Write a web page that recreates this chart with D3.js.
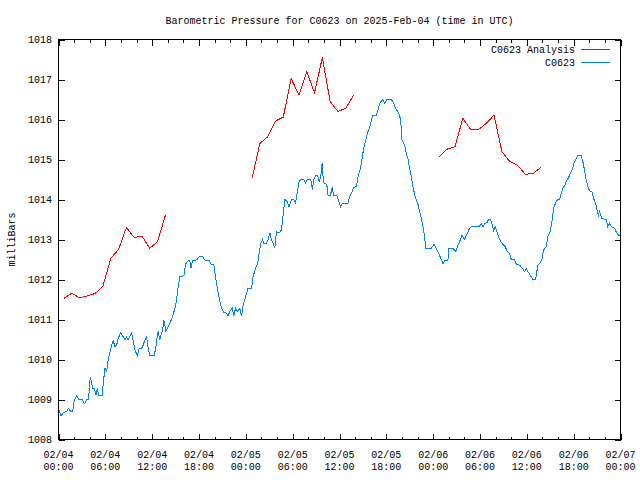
<!DOCTYPE html>
<html>
<head>
<meta charset="utf-8">
<script src="https://cdn.jsdelivr.net/npm/d3@7"></script>
<style>
  html, body { margin: 0; padding: 0; background: #ffffff; }
  svg { display: block; }
  text { font-family: "Liberation Mono", "DejaVu Sans Mono", monospace; font-size: 10px; fill: #000; }
</style>
</head>
<body>
<svg id="chart" width="640" height="480"></svg>
<script>
// ---------- DATA ----------
const titleText = "Barometric Pressure for C0623 on 2025-Feb-04 (time in UTC)";
const yLabel = "milliBars";
const seriesNames = ["C0623 Analysis", "C0623"];
const seriesColors = ["#ff0000", "#0080ff"];

// x-axis ticks (hours since 2025-02-04 00:00 UTC)
const xMajorTicks = [0, 6, 12, 18, 24, 30, 36, 42, 48, 54, 60, 66, 72];
const xTickDates = ["02/04","02/04","02/04","02/04","02/05","02/05","02/05","02/05","02/06","02/06","02/06","02/06","02/07"];
const xTickTimes = ["00:00","06:00","12:00","18:00","00:00","06:00","12:00","18:00","00:00","06:00","12:00","18:00","00:00"];
const yTicks = [1008, 1009, 1010, 1011, 1012, 1013, 1014, 1015, 1016, 1017, 1018];

// Analysis series (hourly, with gaps marked by null)
const analysisHours = [
  0.7, 1.7, 2.7, 3.7, 4.7, 5.7, 6.7, 7.7, 8.7, 9.7, 10.7, 11.7, 12.7, 13.7, null,
  24.8, 25.8, 26.8, 27.8, 28.8, 29.8, 30.8, 31.8, 32.8, 33.8, 34.8, 35.8, 36.8, 37.8, null,
  48.8, 49.8, 50.8, 51.8, 52.8, 53.8, 54.8, 55.8, 56.8, 57.8, 58.8, 59.8, 60.8, 61.8
];
const analysisValues = [
  1011.53, 1011.66, 1011.54, 1011.59, 1011.65, 1011.84, 1012.53, 1012.75, 1013.30, 1013.05, 1013.08, 1012.78, 1012.95, 1013.61, null,
  1014.53, 1015.40, 1015.57, 1015.96, 1016.06, 1017.03, 1016.61, 1017.20, 1016.67, 1017.55, 1016.45, 1016.20, 1016.28, 1016.61, null,
  1015.07, 1015.26, 1015.32, 1016.03, 1015.75, 1015.75, 1015.90, 1016.11, 1015.20, 1014.95, 1014.86, 1014.63, 1014.65, 1014.80
];

// Station observations
const obsHours = [
  0.06,0.32,0.61,1.05,1.25,1.60,1.82,2.02,2.33,2.66,3.10,3.30,3.61,3.87,3.94,4.07,4.25,4.38,4.58,4.80,
  4.97,5.18,5.61,5.73,5.95,6.17,6.37,6.59,6.81,7.01,7.23,7.45,7.65,7.96,8.29,8.51,8.73,8.93,9.15,9.37,
  9.57,9.79,10.09,10.34,10.65,10.85,11.07,11.29,11.49,11.71,12.26,12.48,12.65,12.77,12.99,13.12,13.34,13.50,13.76,14.05,
  14.27,14.62,14.91,15.13,15.33,15.55,16.06,16.28,16.61,16.83,16.96,17.18,17.69,18.02,18.46,18.75,19.30,19.52,19.90,20.03,
  20.25,20.45,20.67,20.97,21.22,21.53,21.73,21.95,22.25,22.46,22.68,22.94,23.23,23.45,23.65,23.87,24.09,24.29,24.73,24.93,
  25.24,25.50,25.70,25.92,26.14,26.34,26.65,26.85,27.07,27.29,27.49,27.71,27.93,28.26,28.57,28.77,28.99,29.29,29.54,29.85,
  30.14,30.36,30.57,30.82,31.13,31.42,31.64,31.90,32.32,32.54,32.70,32.96,33.18,33.38,33.60,33.77,33.89,34.02,34.24,34.41,
  34.53,34.84,35.05,35.26,35.69,35.90,36.12,36.38,37.09,37.31,37.61,37.82,38.17,38.37,38.68,38.89,39.10,39.36,39.58,39.87,
  40.22,40.73,40.93,41.15,41.50,41.79,42.09,42.65,42.94,43.20,43.62,43.84,44.01,44.35,44.57,44.77,44.99,45.21,45.41,45.67,
  45.85,46.05,46.27,46.49,46.69,46.91,47.04,47.77,48.10,48.41,48.70,49.05,49.25,49.47,49.89,50.02,50.53,50.88,51.17,51.48,
  51.69,52.03,52.33,52.67,52.89,53.86,54.17,54.37,54.59,54.89,55.10,55.36,55.58,55.74,55.96,56.17,56.38,56.64,56.93,57.24,
  57.50,57.79,58.01,58.43,58.65,59.07,59.42,59.71,59.93,60.13,60.44,60.77,61.12,61.41,61.63,61.93,62.14,62.49,62.69,63.00,
  63.26,63.42,63.68,63.90,64.19,64.41,64.61,64.83,65.05,65.34,65.60,65.82,66.02,66.24,66.53,66.97,67.17,67.39,67.61,67.81,
  68.03,68.33,68.54,68.80,69.02,69.18,69.31,69.61,70.17,70.37,70.59,70.81,71.23,71.53,71.78,71.94
];
const obsValues = [
  1008.74,1008.59,1008.67,1008.70,1008.78,1008.69,1008.70,1008.99,1009.09,1008.99,1008.99,1008.89,1008.99,1008.99,1009.28,1009.57,1009.40,1009.28,1009.28,1009.11,
  1009.28,1009.09,1009.09,1009.40,1009.78,1009.70,1009.99,1010.19,1010.36,1010.47,1010.32,1010.36,1010.53,1010.67,1010.57,1010.49,1010.56,1010.49,1010.59,1010.67,
  1010.45,1010.25,1010.09,1010.28,1010.28,1010.36,1010.49,1010.57,1010.28,1010.09,1010.09,1010.32,1010.57,1010.70,1010.49,1010.61,1010.74,1010.99,1010.70,1010.82,
  1010.91,1011.07,1011.28,1011.49,1011.82,1012.07,1012.09,1012.39,1012.47,1012.47,1012.28,1012.47,1012.49,1012.57,1012.57,1012.49,1012.47,1012.39,1012.36,1012.20,
  1011.90,1011.66,1011.45,1011.24,1011.17,1011.16,1011.09,1011.20,1011.28,1011.09,1011.28,1011.20,1011.28,1011.09,1011.36,1011.49,1011.66,1011.78,1011.78,1012.07,
  1012.28,1012.40,1012.65,1012.90,1013.00,1012.89,1012.90,1013.00,1013.17,1012.99,1012.90,1012.78,1013.20,1013.16,1013.24,1013.60,1014.00,1013.95,1013.82,1014.00,
  1014.00,1013.91,1014.16,1014.45,1014.51,1014.51,1014.41,1014.51,1014.51,1014.24,1014.51,1014.59,1014.61,1014.45,1014.57,1014.90,1014.57,1014.41,1014.41,1014.32,
  1014.11,1014.11,1014.30,1014.11,1014.09,1013.95,1013.82,1013.91,1013.91,1014.07,1014.20,1014.30,1014.32,1014.57,1014.78,1015.03,1015.28,1015.49,1015.66,1015.81,
  1016.09,1016.11,1016.24,1016.40,1016.50,1016.40,1016.50,1016.50,1016.40,1016.28,1016.14,1015.99,1015.49,1015.36,1015.13,1015.01,1014.78,1014.57,1014.32,1014.09,
  1013.99,1013.88,1013.70,1013.53,1013.32,1013.07,1012.78,1012.78,1012.88,1012.78,1012.65,1012.50,1012.39,1012.47,1012.49,1012.78,1012.78,1012.70,1012.86,1012.99,
  1013.11,1013.00,1013.14,1013.28,1013.32,1013.32,1013.39,1013.31,1013.40,1013.42,1013.50,1013.50,1013.36,1013.22,1013.32,1013.20,1013.07,1012.95,1012.88,1012.82,
  1012.70,1012.65,1012.50,1012.49,1012.38,1012.36,1012.28,1012.20,1012.28,1012.20,1012.11,1011.99,1011.99,1012.36,1012.40,1012.49,1012.74,1012.82,1013.07,1013.20,
  1013.49,1013.78,1013.91,1013.99,1014.00,1014.16,1014.28,1014.34,1014.45,1014.55,1014.66,1014.74,1014.90,1015.00,1015.09,1015.09,1014.95,1014.74,1014.49,1014.32,
  1014.22,1014.20,1014.03,1013.91,1013.70,1013.61,1013.70,1013.53,1013.50,1013.32,1013.40,1013.32,1013.28,1013.16,1013.11,1013.08
];

// ---------- CHART ----------
const svg = d3.select("#chart");
const mLeft = 58.5, mRight = 620.5, mTop = 39.5, mBottom = 439.5;
const fontStack = '"Liberation Mono", "DejaVu Sans Mono", monospace';

const x = d3.scaleLinear().domain([0, 72]).range([mLeft, mRight]);
const y = d3.scaleLinear().domain([1008, 1018]).range([mBottom, mTop]);

const minorTicks = d3.range(0, 73, 2).filter(h => h % 6 !== 0);

function styleAxis(g) {
  g.selectAll("path.domain").remove();
  g.selectAll("line").attr("stroke", "#000").attr("shape-rendering", "crispEdges");
}

// Major ticks, inward on all four sides
svg.append("g").attr("transform", `translate(0,${mBottom})`)
  .call(d3.axisBottom(x).tickValues(xMajorTicks).tickSize(-6).tickSizeOuter(0).tickFormat(""))
  .call(styleAxis);
svg.append("g").attr("transform", `translate(0,${mTop})`)
  .call(d3.axisTop(x).tickValues(xMajorTicks).tickSize(-6).tickSizeOuter(0).tickFormat(""))
  .call(styleAxis);
// Minor x ticks
svg.append("g").attr("transform", `translate(0,${mBottom})`)
  .call(d3.axisBottom(x).tickValues(minorTicks).tickSize(-3).tickSizeOuter(0).tickFormat(""))
  .call(styleAxis);
svg.append("g").attr("transform", `translate(0,${mTop})`)
  .call(d3.axisTop(x).tickValues(minorTicks).tickSize(-3).tickSizeOuter(0).tickFormat(""))
  .call(styleAxis);

// Y axes
const yAxisL = svg.append("g").attr("transform", `translate(${mLeft},0)`)
  .call(d3.axisLeft(y).tickValues(yTicks).tickSize(-6).tickSizeOuter(0).tickPadding(6.5).tickFormat(d3.format("d")))
  .call(styleAxis);
yAxisL.selectAll("text")
  .style("font-family", fontStack)
  .style("font-size", "10px").attr("fill", "#000");
svg.append("g").attr("transform", `translate(${mRight},0)`)
  .call(d3.axisRight(y).tickValues(yTicks).tickSize(-6).tickSizeOuter(0).tickFormat(""))
  .call(styleAxis);

// Border
svg.append("rect")
  .attr("x", mLeft).attr("y", mTop)
  .attr("width", mRight - mLeft).attr("height", mBottom - mTop)
  .attr("fill", "none").attr("stroke", "#000").attr("stroke-width", 1)
  .attr("shape-rendering", "crispEdges");

// X tick labels (two lines)
const xl = svg.append("g");
xMajorTicks.forEach((h, i) => {
  xl.append("text").attr("x", x(h)).attr("y", 458).attr("text-anchor", "middle").text(xTickDates[i]);
  xl.append("text").attr("x", x(h)).attr("y", 470).attr("text-anchor", "middle").text(xTickTimes[i]);
});

// Title
svg.append("text").attr("x", (mLeft + mRight) / 2).attr("y", 23.5)
  .attr("text-anchor", "middle").text(titleText);

// Y label
svg.append("text")
  .attr("transform", `translate(15,${(mTop + mBottom) / 2}) rotate(-90)`)
  .attr("text-anchor", "middle").text(yLabel);

// Lines
const analysis = analysisHours.map((h, i) => ({ h, v: analysisValues[i] }));
const obs = obsHours.map((h, i) => ({ h, v: obsValues[i] }));

const line = d3.line()
  .defined(d => d.h != null && d.v != null)
  .x(d => x(d.h)).y(d => y(d.v));

svg.append("path").datum(obs)
  .attr("d", line).attr("fill", "none")
  .attr("stroke", seriesColors[1]).attr("stroke-width", 1)
  .attr("shape-rendering", "crispEdges");

svg.append("path").datum(analysis)
  .attr("d", line).attr("fill", "none")
  .attr("stroke", seriesColors[0]).attr("stroke-width", 1)
  .attr("shape-rendering", "crispEdges");

// Legend
const legend = svg.append("g");
seriesNames.forEach((name, i) => {
  const ly = 49.5 + i * 13;
  legend.append("text").attr("x", 575).attr("y", ly + 3.5)
    .attr("text-anchor", "end").text(name);
  legend.append("line")
    .attr("x1", 581).attr("x2", 610).attr("y1", ly).attr("y2", ly)
    .attr("stroke", seriesColors[i]).attr("stroke-width", 1)
    .attr("shape-rendering", "crispEdges");
});
</script>
</body>
</html>
